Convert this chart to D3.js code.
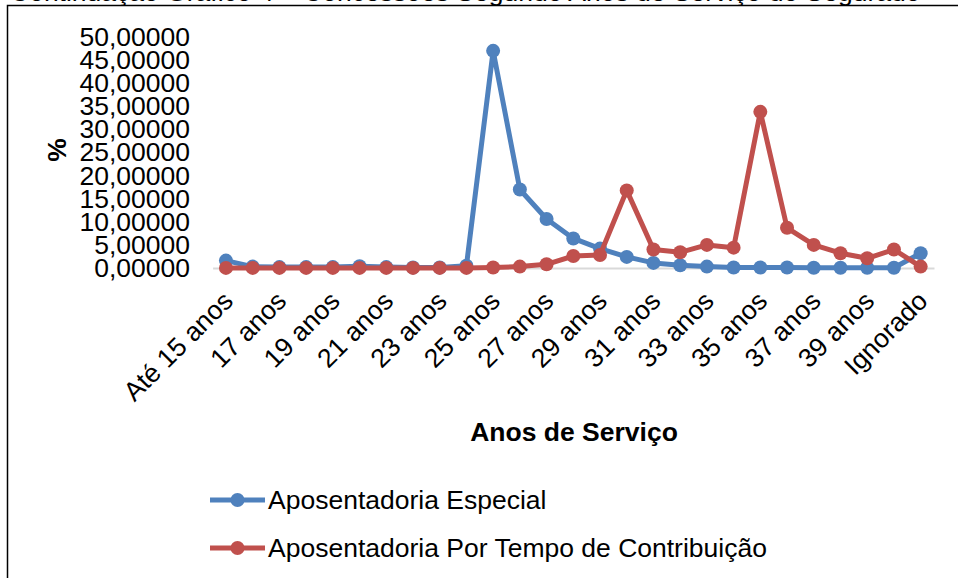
<!DOCTYPE html>
<html>
<head>
<meta charset="utf-8">
<script src="https://cdn.jsdelivr.net/npm/d3@7"></script>
<style>
  html, body { margin: 0; padding: 0; background: #fff; }
  svg { display: block; font-family: "Liberation Sans", Arial, sans-serif; }
</style>
</head>
<body>
<div id="chart"></div>
<script>
// categories on the x axis (anos de serviço)
const categories = [
  'Até 15 anos', '16 anos', '17 anos', '18 anos', '19 anos', '20 anos',
  '21 anos', '22 anos', '23 anos', '24 anos', '25 anos', '26 anos',
  '27 anos', '28 anos', '29 anos', '30 anos', '31 anos', '32 anos',
  '33 anos', '34 anos', '35 anos', '36 anos', '37 anos', '38 anos',
  '39 anos', '40 anos', 'Ignorado'
];

// % values
const especial = [
  1.6, 0.3, 0.2, 0.2, 0.2, 0.4, 0.2, 0.1, 0.1, 0.5, 47.0, 17.0,
  10.6, 6.4, 4.2, 2.4, 1.1, 0.6, 0.3, 0.1, 0.1, 0.1, 0.05, 0.05,
  0.05, 0.05, 3.2
];
const tempoContribuicao = [
  0.02, 0.02, 0.02, 0.02, 0.02, 0.02, 0.02, 0.02, 0.02, 0.02, 0.1, 0.3,
  0.8, 2.6, 2.8, 16.8, 4.0, 3.4, 5.0, 4.4, 33.8, 8.7, 5.0, 3.2,
  2.1, 4.0, 0.3
];

const seriesNames = ['Aposentadoria Especial', 'Aposentadoria Por Tempo de Contribuição'];
const seriesColors = ['#4F81BD', '#C0504D'];
const yTicks = [0, 5, 10, 15, 20, 25, 30, 35, 40, 45, 50];

const title = 'Continuação Gráfico 4 – Concessões Segundo Anos de Serviço do Segurado';

const width = 958, height = 578;
const FONT = 26.5;

const ptBR = d3.formatLocale({ decimal: ',', thousands: '.', grouping: [3], currency: ['R$', ''] });
const fmt = ptBR.format('.5f');

const svg = d3.select('#chart').append('svg')
  .attr('width', width)
  .attr('height', height);

// chart frame (runs off the right/bottom edge like the source)
svg.append('rect')
  .attr('x', 7.5).attr('y', 5.5)
  .attr('width', 1000).attr('height', 700)
  .attr('fill', 'none')
  .attr('stroke', '#000')
  .attr('stroke-width', 1.5);

// title, mostly cut off at the top
svg.append('text')
  .attr('x', 10).attr('y', 1)
  .attr('font-size', FONT)
  .attr('fill', '#000')
  .text(title);

const xBand = d3.scaleBand()
  .domain(categories)
  .range([212.6, 934])
  .padding(0);
const x = c => xBand(c) + xBand.bandwidth() / 2;

const y = d3.scaleLinear()
  .domain([0, 50])
  .range([268, 37]);

// y axis labels
const yAxis = svg.append('g')
  .attr('transform', 'translate(190,0)')
  .call(d3.axisLeft(y).tickValues(yTicks).tickSize(0).tickPadding(0).tickFormat(fmt));
yAxis.select('.domain').remove();
yAxis.selectAll('text')
  .attr('font-size', FONT)
  .attr('font-family', '"Liberation Sans", Arial, sans-serif')
  .attr('fill', '#000');

// x axis line + rotated labels
const xAxis = svg.append('g')
  .attr('transform', `translate(0,${y(0)})`)
  .call(d3.axisBottom(xBand)
    .tickValues(categories.filter((d, i) => i % 2 === 0))
    .tickSize(0)
    .tickSizeOuter(0));
xAxis.select('.domain')
  .attr('stroke', '#D9D9D9')
  .attr('stroke-width', 2);
xAxis.selectAll('text')
  .attr('font-size', FONT)
  .attr('font-family', '"Liberation Sans", Arial, sans-serif')
  .attr('fill', '#000')
  .attr('text-anchor', 'end')
  .attr('y', 0)
  .attr('dy', '0.35em')
  .attr('transform', 'translate(2,28) rotate(-45)');

// axis titles
svg.append('text')
  .attr('transform', 'translate(66,150) rotate(-90)')
  .attr('text-anchor', 'middle')
  .attr('font-size', FONT)
  .attr('font-weight', 'bold')
  .text('%');

svg.append('text')
  .attr('x', 574).attr('y', 441)
  .attr('text-anchor', 'middle')
  .attr('font-size', FONT)
  .attr('font-weight', 'bold')
  .text('Anos de Serviço');

// lines and markers
const line = d3.line()
  .x((d, i) => x(categories[i]))
  .y(d => y(d));

[especial, tempoContribuicao].forEach((vals, s) => {
  const g = svg.append('g');
  g.append('path')
    .datum(vals)
    .attr('d', line)
    .attr('fill', 'none')
    .attr('stroke', seriesColors[s])
    .attr('stroke-width', 5)
    .attr('stroke-linejoin', 'round');
  g.selectAll('circle')
    .data(vals)
    .join('circle')
    .attr('cx', (d, i) => x(categories[i]))
    .attr('cy', d => y(d))
    .attr('r', 7)
    .attr('fill', seriesColors[s]);
});

// legend
const legend = svg.append('g');
seriesNames.forEach((name, i) => {
  const ly = 500 + i * 48;
  legend.append('line')
    .attr('x1', 210).attr('x2', 265)
    .attr('y1', ly).attr('y2', ly)
    .attr('stroke', seriesColors[i])
    .attr('stroke-width', 5);
  legend.append('circle')
    .attr('cx', 237.5).attr('cy', ly)
    .attr('r', 7)
    .attr('fill', seriesColors[i]);
  legend.append('text')
    .attr('x', 268).attr('y', ly)
    .attr('dy', '0.35em')
    .attr('font-size', FONT)
    .text(name);
});
</script>
</body>
</html>
